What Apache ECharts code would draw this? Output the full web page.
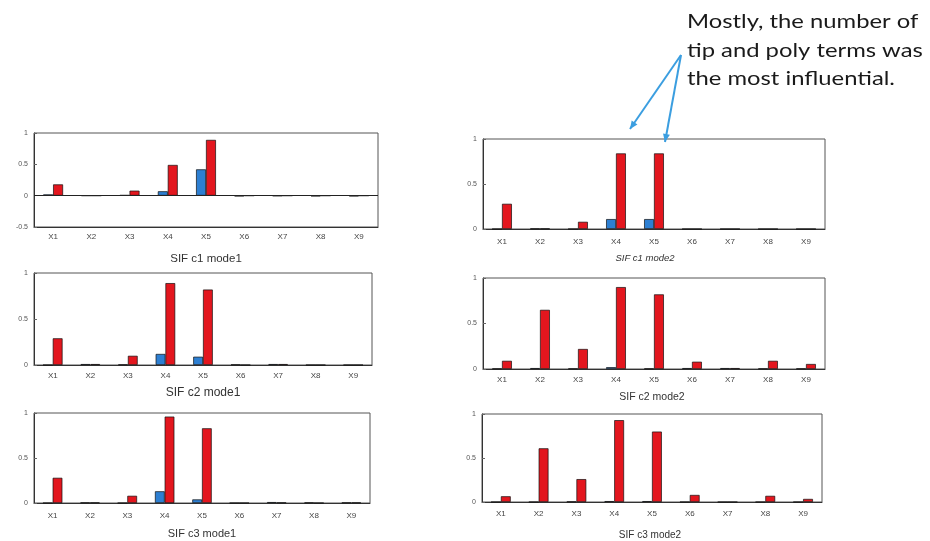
<!DOCTYPE html>
<html>
<head>
<meta charset="utf-8">
<script src="https://cdn.jsdelivr.net/npm/echarts@6/dist/echarts.min.js"></script>
<style>
  html, body { margin: 0; padding: 0; background: #fff; }
  #chart { width: 930px; height: 541px; }
</style>
</head>
<body>
<div id="chart"></div>
<script>
// Category labels shared by every panel
const factors = ['X1', 'X2', 'X3', 'X4', 'X5', 'X6', 'X7', 'X8', 'X9'];

// Sensitivity indices, first-order (blue) and total (red), per case and mode
const c1Mode1Blue = [0.02, 0.0, 0.01, 0.07, 0.42, -0.01, -0.005, -0.01, -0.01];
const c1Mode1Red  = [0.18, 0.0, 0.08, 0.49, 0.89, 0.0, 0.0, 0.0, 0.0];
const c2Mode1Blue = [0.0, 0.01, 0.005, 0.12, 0.09, 0.005, 0.01, 0.0, 0.0];
const c2Mode1Red  = [0.29, 0.01, 0.10, 0.89, 0.82, 0.0, 0.01, 0.0, 0.0];
const c3Mode1Blue = [0.0, 0.005, 0.0, 0.13, 0.04, 0.0, 0.01, 0.005, 0.005];
const c3Mode1Red  = [0.28, 0.005, 0.08, 0.96, 0.83, 0.0, 0.005, 0.0, 0.005];
const c1Mode2Blue = [0.0, 0.005, 0.0, 0.11, 0.11, 0.0, 0.0, 0.0, 0.0];
const c1Mode2Red  = [0.28, 0.005, 0.08, 0.84, 0.84, 0.0, 0.0, 0.0, 0.0];
const c2Mode2Blue = [0.005, 0.01, 0.005, 0.02, 0.005, 0.01, 0.01, 0.005, 0.005];
const c2Mode2Red  = [0.09, 0.65, 0.22, 0.90, 0.82, 0.08, 0.01, 0.09, 0.055];
const c3Mode2Blue = [0.0, 0.0, 0.005, 0.01, 0.01, 0.0, 0.0, 0.0, 0.0];
const c3Mode2Red  = [0.065, 0.61, 0.26, 0.93, 0.80, 0.08, 0.0, 0.07, 0.035];

// Y-axis tick values
const ticksWithNegative = [-0.5, 0, 0.5, 1];
const ticksPositive = [0, 0.5, 1];

const panels = [
  { title: 'SIF c1 mode1', blue: c1Mode1Blue, red: c1Mode1Red, ticks: ticksWithNegative,
    box: { left: 34, top: 133, width: 344, height: 94 }, margin: 6, gap: 26, titleSize: 11.5, italic: false, shift: 0 },
  { title: 'SIF c2 mode1', blue: c2Mode1Blue, red: c2Mode1Red, ticks: ticksPositive,
    box: { left: 34, top: 273, width: 338, height: 92 }, margin: 7, gap: 22, titleSize: 12, italic: false, shift: 0 },
  { title: 'SIF c3 mode1', blue: c3Mode1Blue, red: c3Mode1Red, ticks: ticksPositive,
    box: { left: 34, top: 413, width: 336, height: 90 }, margin: 9, gap: 25, titleSize: 11, italic: false, shift: 0 },
  { title: 'SIF c1 mode2', blue: c1Mode2Blue, red: c1Mode2Red, ticks: ticksPositive,
    box: { left: 483, top: 139, width: 342, height: 90 }, margin: 9, gap: 24, titleSize: 9.5, italic: true, shift: 18 },
  { title: 'SIF c2 mode2', blue: c2Mode2Blue, red: c2Mode2Red, ticks: ticksPositive,
    box: { left: 483, top: 278, width: 342, height: 91 }, margin: 7, gap: 23, titleSize: 10.5, italic: false, shift: 4 },
  { title: 'SIF c3 mode2', blue: c3Mode2Blue, red: c3Mode2Red, ticks: ticksPositive,
    box: { left: 482, top: 414, width: 340, height: 93 }, margin: 8, gap: 28, titleSize: 10, italic: false, shift: 4 }
];

const axisColor = '#333';
const grid = [], xAxis = [], yAxis = [], series = [];

panels.forEach((p, i) => {
  const minV = p.ticks[0];
  const maxV = p.ticks[p.ticks.length - 1];
  grid.push(Object.assign({ show: true, borderColor: '#555', borderWidth: 1, backgroundColor: '#fff' }, p.box));
  xAxis.push({
    type: 'category', gridIndex: i, data: factors,
    name: p.title, nameLocation: 'middle', nameGap: p.gap,
    nameTextStyle: { fontSize: p.titleSize, color: '#333', fontFamily: 'Liberation Sans',
      fontStyle: p.italic ? 'italic' : 'normal', padding: [0, p.shift, 0, 0] },
    axisLine: { onZero: false, lineStyle: { color: axisColor } },
    axisTick: { inside: true, alignWithLabel: true, length: 2, lineStyle: { color: '#666' } },
    axisLabel: { fontSize: 8, color: '#444', margin: p.margin, fontFamily: 'Liberation Sans' }
  });
  yAxis.push({
    type: 'value', gridIndex: i, min: minV, max: maxV, interval: 0.5,
    axisLine: { show: true, lineStyle: { color: axisColor } },
    axisTick: { show: true, inside: true, length: 3, lineStyle: { color: '#666' } },
    splitLine: { show: false },
    axisLabel: { fontSize: 7, color: '#555', margin: 6, fontFamily: 'Liberation Sans',
      formatter: v => String(v) }
  });
  const common = {
    type: 'bar', xAxisIndex: i, yAxisIndex: i, barWidth: '26%', barGap: '0%',
    silent: true, animation: false
  };
  series.push(Object.assign({}, common, {
    name: 'first-order', data: p.blue,
    itemStyle: { color: '#2d7fd2', borderColor: '#111', borderWidth: 0.7 }
  }));
  const redSeries = Object.assign({}, common, {
    name: 'total', data: p.red,
    itemStyle: { color: '#e3161e', borderColor: '#111', borderWidth: 0.7 }
  });
  if (minV < 0) {
    // baseline across the panel at zero
    redSeries.markLine = {
      silent: true, symbol: 'none', animation: false,
      label: { show: false },
      lineStyle: { color: '#222', width: 1, type: 'solid' },
      data: [{ yAxis: 0 }]
    };
  }
  series.push(redSeries);
});

// Callout text and arrows pointing at the two dominant factors
const calloutLines = ['Mostly, the number of', 'tip and poly terms was', 'the most influential.'];
const arrowOrigin = [681, 55];
const arrowTargets = [[630, 129], [665, 142]];
const arrowColor = '#3b9ee0';

const graphic = [];
calloutLines.forEach((t, k) => {
  graphic.push({
    type: 'text', left: 687, top: 12 + k * 28.5, scaleX: 1.19,
    style: { text: t, fontSize: 20, fontFamily: 'Lato', fill: '#1a1a1a' }
  });
});
arrowTargets.forEach(t => {
  graphic.push({
    type: 'line',
    shape: { x1: arrowOrigin[0], y1: arrowOrigin[1], x2: t[0], y2: t[1] },
    style: { stroke: arrowColor, lineWidth: 2 }
  });
  const dx = t[0] - arrowOrigin[0], dy = t[1] - arrowOrigin[1];
  const len = Math.hypot(dx, dy), ux = dx / len, uy = dy / len;
  const hl = 8, hw = 3.5;
  const bx = t[0] - ux * hl, by = t[1] - uy * hl;
  graphic.push({
    type: 'polygon',
    shape: { points: [[t[0], t[1]], [bx - uy * hw, by + ux * hw], [bx + uy * hw, by - ux * hw]] },
    style: { fill: arrowColor }
  });
});

const chart = echarts.init(document.getElementById('chart'), null, { renderer: 'canvas' });
chart.setOption({
  backgroundColor: '#fff',
  animation: false,
  grid, xAxis, yAxis, series, graphic
});
</script>
</body>
</html>
